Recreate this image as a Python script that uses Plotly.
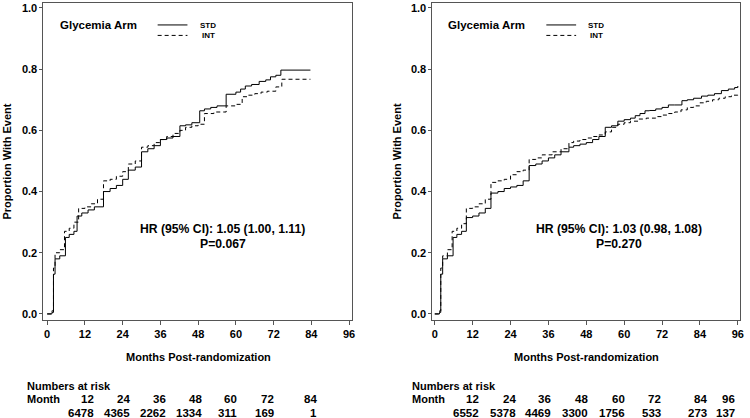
import plotly.graph_objects as go

# ---- data ----------------------------------------------------------------
left_std_t = [0, 1.5, 2.0, 2.5, 4, 5.8, 7, 8.5, 9.5, 11, 13, 15, 17.9, 20, 22, 24, 25.8, 28, 30, 32, 34, 36, 38,
              40, 42.2, 44, 46, 48.5, 50, 52, 54, 56.9, 60, 61.5, 63, 65, 67.4, 69.5, 71, 72.7, 74.3, 83.7]
left_std_v = [0, 0.005, 0.13, 0.18, 0.19, 0.25, 0.26, 0.27, 0.32, 0.33, 0.34, 0.35, 0.40, 0.41, 0.42, 0.44, 0.47,
              0.48, 0.53, 0.54, 0.55, 0.57, 0.575, 0.58, 0.615, 0.618, 0.625, 0.664, 0.67, 0.675, 0.68, 0.718,
              0.725, 0.735, 0.745, 0.75, 0.76, 0.765, 0.775, 0.78, 0.797, 0.797]

left_int_t = [0, 1.5, 2.0, 2.5, 4, 5.5, 7, 8.5, 10, 12, 14, 16, 17.9, 20, 22, 24, 25.8, 28, 30, 32, 34, 36, 38,
              40, 42.2, 44, 46, 48, 50, 53, 56.9, 60, 62, 64, 66, 68, 70, 72.7, 74.6, 83.7]
left_int_v = [0, 0.01, 0.15, 0.20, 0.21, 0.27, 0.28, 0.30, 0.345, 0.35, 0.36, 0.375, 0.435, 0.44, 0.45, 0.465,
              0.49, 0.50, 0.545, 0.55, 0.56, 0.57, 0.58, 0.59, 0.60, 0.61, 0.615, 0.62, 0.655, 0.66, 0.68, 0.685,
              0.71, 0.715, 0.72, 0.725, 0.728, 0.742, 0.767, 0.767]

right_std_t = [0, 1.5, 1.9, 2.5, 4, 5.8, 7, 8.5, 10, 12, 14, 16, 17.8, 20, 22, 24, 26, 28, 29.9, 32, 34, 36, 38,
               40, 42.5, 44, 46, 48, 50, 52, 54, 56, 58, 60, 62, 63.5, 65, 66.6, 68, 70, 72, 74, 76, 78.3, 80, 82,
               84.5, 86.5, 88.6, 90.8, 93, 95, 96]
right_std_v = [0, 0.005, 0.13, 0.18, 0.19, 0.25, 0.26, 0.27, 0.315, 0.32, 0.33, 0.345, 0.395, 0.40, 0.41, 0.415,
               0.42, 0.435, 0.485, 0.49, 0.50, 0.51, 0.52, 0.53, 0.545, 0.55, 0.555, 0.56, 0.57, 0.58, 0.61, 0.615,
               0.63, 0.635, 0.64, 0.648, 0.655, 0.664, 0.665, 0.67, 0.675, 0.683, 0.683, 0.697, 0.70, 0.705, 0.712,
               0.715, 0.72, 0.73, 0.735, 0.74, 0.745]

right_int_t = [0, 1.5, 1.9, 2.5, 4, 5.5, 7, 8.5, 10, 12, 14, 16, 17.8, 20, 22, 24, 26, 28, 29.9, 32, 34, 37.2, 40,
               42.5, 44, 46, 48, 50, 52, 54, 56, 58, 60, 62, 64.5, 67, 70, 72, 74, 76, 78, 80, 82, 84, 86, 88, 90,
               92, 94, 96]
right_int_v = [0, 0.01, 0.15, 0.19, 0.21, 0.27, 0.28, 0.295, 0.345, 0.35, 0.36, 0.375, 0.43, 0.435, 0.44, 0.455,
               0.465, 0.47, 0.505, 0.51, 0.52, 0.53, 0.54, 0.56, 0.565, 0.57, 0.575, 0.58, 0.585, 0.595, 0.61, 0.62,
               0.625, 0.63, 0.637, 0.64, 0.645, 0.65, 0.655, 0.66, 0.667, 0.675, 0.68, 0.69, 0.695, 0.70, 0.705,
               0.71, 0.715, 0.72]

hr_left = ["HR (95% CI): 1.05 (1.00, 1.11)", "P=0.067"]
hr_right = ["HR (95% CI): 1.03 (0.98, 1.08)", "P=0.270"]

x_ticks = [0, 12, 24, 36, 48, 60, 72, 84, 96]
y_ticks = [0.0, 0.2, 0.4, 0.6, 0.8, 1.0]

risk_months_left = [12, 24, 36, 48, 60, 72, 84]
risk_left = [6478, 4365, 2262, 1334, 311, 169, 1]
risk_months_right = [12, 24, 36, 48, 60, 72, 84, 96]
risk_right = [6552, 5378, 4469, 3300, 1756, 533, 273, 137]

# ---- layout helpers (pixel -> paper) -------------------------------------
W, H = 750, 418
FONT = "Liberation Sans, Arial, sans-serif"
AXC = "#555555"


def px(x):
    return x / W


def py(y):
    return 1 - y / H


fig = go.Figure()

panels = [
    dict(std=(left_std_t, left_std_v), int_=(left_int_t, left_int_v), xa="x", ya="y",
         dom=(42.7, 353.3), rng=(-1.2, 96.9), hr=hr_left, hrx=223,
         months=risk_months_left, risk=risk_left, tab_x=24.3,
         cols=[95.7, 131.7, 168.3, 204.3, 240, 276.7, 320], ytitle_x=6.5, legx=57, xt=198.5),
    dict(std=(right_std_t, right_std_v), int_=(right_int_t, right_int_v), xa="x2", ya="y2",
         dom=(434.3, 744.3), rng=(-0.75, 96.8), hr=hr_right, hrx=621.7,
         months=risk_months_right, risk=risk_right, tab_x=411.7,
         cols=[483.3, 520, 556, 593.3, 630, 666.7, 712.7, 741], ytitle_x=399, legx=448.3, xt=589),
]

annotations = []
shapes = []

for i, p in enumerate(panels):
    fig.add_trace(go.Scatter(x=p["std"][0], y=p["std"][1], mode="lines", line_shape="hv",
                             line=dict(color="black", width=1), xaxis=p["xa"], yaxis=p["ya"],
                             showlegend=False, name="STD"))
    fig.add_trace(go.Scatter(x=p["int_"][0], y=p["int_"][1], mode="lines", line_shape="hv",
                             line=dict(color="black", width=1, dash="4px,3px"), xaxis=p["xa"], yaxis=p["ya"],
                             showlegend=False, name="INT"))

    sfx = "" if i == 0 else str(i + 1)
    axis_common = dict(showline=True, linecolor=AXC, linewidth=1, mirror=True, ticks="outside",
                       tickcolor=AXC, showgrid=False, zeroline=False,
                       tickfont=dict(family=FONT, size=11, color="black", weight="bold"))
    fig.update_layout(**{
        "xaxis" + sfx: dict(domain=[px(p["dom"][0]), px(p["dom"][1])], range=list(p["rng"]),
                            tickvals=x_ticks, ticklen=4, anchor="y" + sfx, **axis_common),
        "yaxis" + sfx: dict(domain=[py(319.3), py(2)], range=[-0.0183, 1.0163], tickvals=y_ticks,
                            tickformat=".1f", ticklen=3, anchor="x" + sfx, **axis_common),
    })

    # legend block
    lx = p["legx"]
    annotations.append(dict(x=px(lx), y=py(24), text="<b>Glycemia Arm</b>", xanchor="left",
                            font=dict(size=11.5)))
    shapes.append(dict(type="line", xref="paper", yref="paper", x0=px(lx + 100.7), x1=px(lx + 130.7),
                       y0=py(24), y1=py(24), line=dict(color="black", width=1)))
    shapes.append(dict(type="line", xref="paper", yref="paper", x0=px(lx + 100.7), x1=px(lx + 130.7),
                       y0=py(34.5), y1=py(34.5), line=dict(color="black", width=1, dash="4px,3px")))
    annotations.append(dict(x=px(lx + 141), y=py(24.5), text="<b>STD</b>", xanchor="left", font=dict(size=8)))
    annotations.append(dict(x=px(lx + 143), y=py(35), text="<b>INT</b>", xanchor="left", font=dict(size=8)))

    # hazard ratio text
    annotations.append(dict(x=px(p["hrx"]), y=py(229), text="<b>%s</b>" % p["hr"][0], xanchor="center",
                            font=dict(size=12.2)))
    annotations.append(dict(x=px(p["hrx"]), y=py(243.5), text="<b>%s</b>" % p["hr"][1], xanchor="center",
                            font=dict(size=12.2)))

    # axis titles
    annotations.append(dict(x=px(p["xt"]), y=py(357), text="<b>Months Post-randomization</b>",
                            xanchor="center", font=dict(size=11)))
    annotations.append(dict(x=px(p["ytitle_x"]), y=py(160.5), text="<b>Proportion With Event</b>",
                            xanchor="center", textangle=-90, font=dict(size=11)))

    # numbers at risk table
    annotations.append(dict(x=px(p["tab_x"]), y=py(385.5), text="<b>Numbers at risk</b>", xanchor="left",
                            font=dict(size=11)))
    annotations.append(dict(x=px(p["tab_x"]), y=py(399), text="<b>Month</b>", xanchor="left",
                            font=dict(size=11)))
    for m, n, cxp in zip(p["months"], p["risk"], p["cols"]):
        annotations.append(dict(x=px(cxp), y=py(399), text="<b>%d</b>" % m, xanchor="right",
                                font=dict(size=11.5)))
        annotations.append(dict(x=px(cxp), y=py(412.5), text="<b>%d</b>" % n, xanchor="right",
                                font=dict(size=11.5)))

for a in annotations:
    a.update(xref="paper", yref="paper", showarrow=False, yanchor="middle")
    a["font"].update(family=FONT, color="black")

fig.update_layout(
    width=W, height=H, margin=dict(l=0, r=0, t=0, b=0),
    paper_bgcolor="white", plot_bgcolor="white",
    annotations=annotations, shapes=shapes, showlegend=False,
)

# the page body has a default 8px margin; drop it so the figure fills the window
fig.write_html("out.html", config={"displayModeBar": False},
               post_script="document.body.style.margin='0';document.body.style.overflow='hidden';")
